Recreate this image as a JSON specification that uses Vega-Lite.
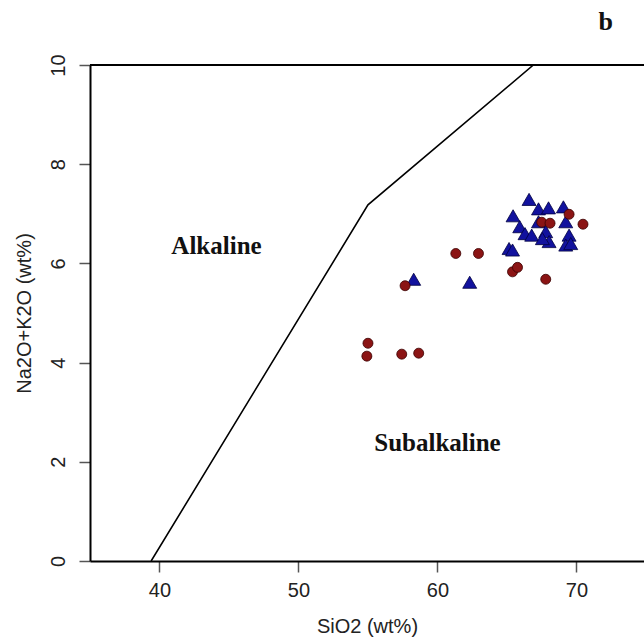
{
  "$schema": "https://vega.github.io/schema/vega-lite/v6.json",
  "width": 554,
  "height": 496,
  "autosize": {"type": "none"},
  "padding": {"left": 90, "top": 65, "right": 0, "bottom": 80},
  "background": "white",
  "config": {"view": {"stroke": null}},
  "datasets": {
    "pts": [
      {"sio2": 66.59, "alk": 7.29, "group": "B"},
      {"sio2": 65.44, "alk": 6.96, "group": "B"},
      {"sio2": 67.27, "alk": 7.10, "group": "B"},
      {"sio2": 67.99, "alk": 7.12, "group": "B"},
      {"sio2": 69.06, "alk": 7.14, "group": "B"},
      {"sio2": 65.92, "alk": 6.74, "group": "B"},
      {"sio2": 66.30, "alk": 6.60, "group": "B"},
      {"sio2": 66.78, "alk": 6.57, "group": "B"},
      {"sio2": 67.27, "alk": 6.84, "group": "B"},
      {"sio2": 67.79, "alk": 6.64, "group": "B"},
      {"sio2": 68.03, "alk": 6.44, "group": "B"},
      {"sio2": 67.55, "alk": 6.50, "group": "B"},
      {"sio2": 69.23, "alk": 6.84, "group": "B"},
      {"sio2": 69.47, "alk": 6.57, "group": "B"},
      {"sio2": 69.23, "alk": 6.37, "group": "B"},
      {"sio2": 69.59, "alk": 6.40, "group": "B"},
      {"sio2": 65.15, "alk": 6.30, "group": "B"},
      {"sio2": 65.40, "alk": 6.27, "group": "B"},
      {"sio2": 58.29, "alk": 5.68, "group": "B"},
      {"sio2": 62.32, "alk": 5.62, "group": "B"},
      {"sio2": 67.50, "alk": 6.83, "group": "A"},
      {"sio2": 68.10, "alk": 6.81, "group": "A"},
      {"sio2": 69.47, "alk": 6.99, "group": "A"},
      {"sio2": 70.47, "alk": 6.79, "group": "A"},
      {"sio2": 61.32, "alk": 6.20, "group": "A"},
      {"sio2": 62.95, "alk": 6.20, "group": "A"},
      {"sio2": 65.40, "alk": 5.83, "group": "A"},
      {"sio2": 65.76, "alk": 5.92, "group": "A"},
      {"sio2": 67.79, "alk": 5.68, "group": "A"},
      {"sio2": 57.67, "alk": 5.55, "group": "A"},
      {"sio2": 55.00, "alk": 4.39, "group": "A"},
      {"sio2": 54.92, "alk": 4.13, "group": "A"},
      {"sio2": 57.43, "alk": 4.17, "group": "A"},
      {"sio2": 58.65, "alk": 4.19, "group": "A"}
    ],
    "divide": [
      {"sio2": 39.4, "alk": 0, "ord": 1},
      {"sio2": 55.0, "alk": 7.18, "ord": 2},
      {"sio2": 66.9, "alk": 10, "ord": 3}
    ],
    "labels": [
      {"sio2": 44.1, "alk": 6.35, "label": "Alkaline"},
      {"sio2": 60.0, "alk": 2.37, "label": "Subalkaline"}
    ],
    "panel": [
      {"sio2": 72.1, "alk": 10.87, "label": "b"}
    ]
  },
  "layer": [
    {
      "data": {"name": "divide"},
      "mark": {"type": "line", "color": "black", "strokeWidth": 1.6, "clip": true},
      "encoding": {
        "x": {
          "field": "sio2", "type": "quantitative",
          "scale": {"domain": [35, 74.86], "nice": false, "zero": false},
          "axis": {
            "title": "SiO2 (wt%)",
            "values": [40, 50, 60, 70],
            "grid": false,
            "domainColor": "black", "domainWidth": 2,
            "tickColor": "#555", "tickSize": 11, "tickWidth": 1.5,
            "labelFont": "Liberation Sans", "labelFontSize": 20, "labelColor": "#222",
            "labelPadding": 8,
            "titleFont": "Liberation Sans", "titleFontSize": 20, "titleFontWeight": "normal", "titleColor": "#222",
            "titlePadding": 16
          }
        },
        "y": {
          "field": "alk", "type": "quantitative",
          "scale": {"domain": [0, 10], "nice": false},
          "axis": {
            "title": "Na2O+K2O (wt%)",
            "values": [0, 2, 4, 6, 8, 10],
            "grid": false,
            "domainColor": "black", "domainWidth": 2,
            "tickColor": "#555", "tickSize": 11, "tickWidth": 1.5,
            "labelFont": "Liberation Sans", "labelFontSize": 20, "labelColor": "#222",
            "labelAngle": -90, "labelAlign": "center", "labelBaseline": "bottom",
            "labelPadding": 11,
            "titleFont": "Liberation Sans", "titleFontSize": 20, "titleFontWeight": "normal", "titleColor": "#222",
            "titlePadding": 14
          }
        },
        "order": {"field": "ord"}
      }
    },
    {
      "data": {"name": "divide"},
      "mark": {"type": "rule", "color": "black", "strokeWidth": 2},
      "encoding": {"y": {"datum": 10}}
    },
    {
      "data": {"name": "pts"},
      "mark": {"type": "point", "filled": true, "strokeWidth": 0.8, "opacity": 1},
      "encoding": {
        "x": {"field": "sio2", "type": "quantitative"},
        "y": {"field": "alk", "type": "quantitative"},
        "shape": {"field": "group", "type": "nominal", "scale": {"domain": ["A", "B"], "range": ["circle", "triangle-up"]}, "legend": null},
        "fill": {"field": "group", "type": "nominal", "scale": {"domain": ["A", "B"], "range": ["#8b1414", "#12129e"]}, "legend": null},
        "stroke": {"field": "group", "type": "nominal", "scale": {"domain": ["A", "B"], "range": ["#3a0000", "#000040"]}, "legend": null},
        "size": {"field": "group", "type": "nominal", "scale": {"domain": ["A", "B"], "range": [100, 195]}, "legend": null}
      }
    },
    {
      "data": {"name": "labels"},
      "mark": {"type": "text", "font": "Liberation Serif", "fontWeight": "bold", "fontSize": 25, "color": "#111"},
      "encoding": {
        "x": {"field": "sio2", "type": "quantitative"},
        "y": {"field": "alk", "type": "quantitative"},
        "text": {"field": "label"}
      }
    },
    {
      "data": {"name": "panel"},
      "mark": {"type": "text", "font": "Liberation Serif", "fontWeight": "bold", "fontSize": 26, "color": "#111", "clip": false},
      "encoding": {
        "x": {"field": "sio2", "type": "quantitative"},
        "y": {"field": "alk", "type": "quantitative"},
        "text": {"field": "label"}
      }
    }
  ]
}
